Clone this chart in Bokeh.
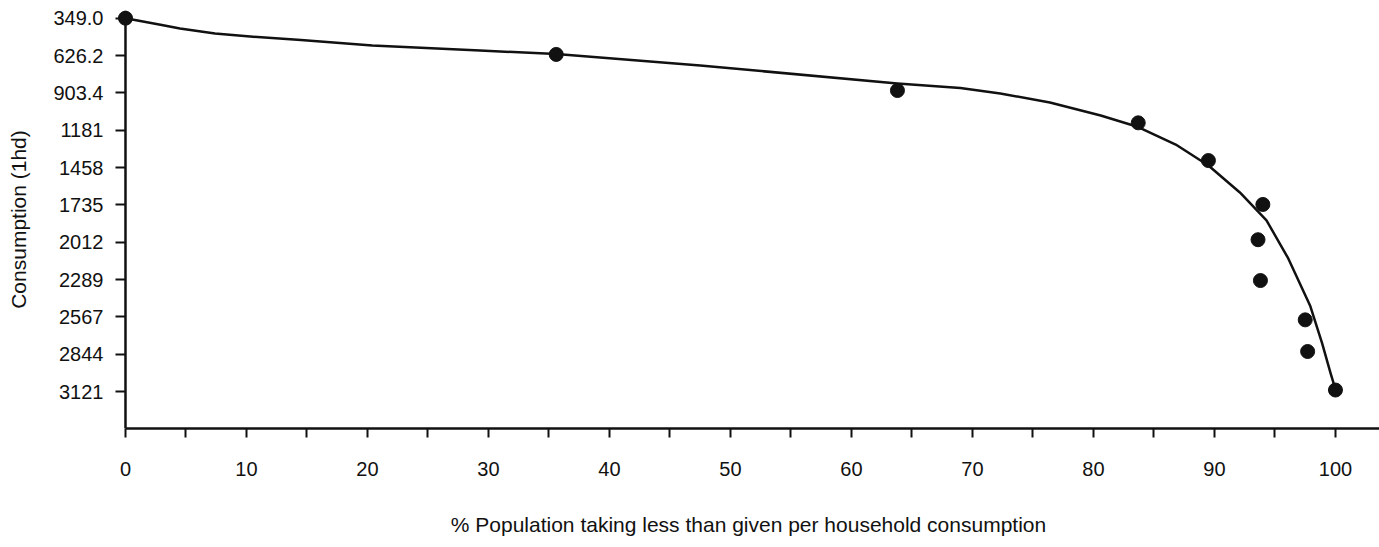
import json
from bokeh.plotting import figure
from bokeh.models import Range1d, FixedTicker, CustomJSTickFormatter, Span
from bokeh.embed import file_html
from bokeh.resources import INLINE

# Observed data points (% population, consumption)
pct_points = [0.0, 35.6, 63.8, 83.7, 89.5, 94.0, 93.6, 93.8, 97.5, 97.7, 100.0]
cons_points = [349, 618, 886, 1126, 1406, 1732, 1994, 2297, 2589, 2824, 3110]

# Fitted curve
curve_pct = [0.0, 3.0, 4.5, 7.4, 10.3, 14.5, 20.4, 29.3, 35.6, 47.5, 63.8, 69.0, 72.3,
             76.4, 80.6, 83.7, 86.8, 89.5, 92.1, 94.3, 96.1, 97.9, 98.9, 99.6, 100.0]
curve_cons = [349, 399, 425, 463, 485, 511, 552, 589, 615, 700, 834, 868, 908,
              975, 1072, 1157, 1287, 1443, 1643, 1851, 2133, 2482, 2764, 2987, 3106]

# Axis ticks and labels
x_ticks = [0, 10, 20, 30, 40, 50, 60, 70, 80, 90, 100]
x_minor_ticks = [5, 15, 25, 35, 45, 55, 65, 75, 85, 95]
y_ticks = [349.0, 626.2, 903.4, 1180.6, 1457.8, 1735.0, 2012.2, 2289.4, 2566.6, 2843.8, 3121.0]
y_labels = ["349.0", "626.2", "903.4", "1181", "1458", "1735", "2012", "2289", "2567", "2844", "3121"]

x_title = "% Population taking less than given per household consumption"
y_title = "Consumption (1hd)"

INK = "#111111"
FONT = "Liberation Sans"

X_START, X_END = -0.66, 103.64
Y_BOTTOM, Y_TOP = 3395.7, 291.8

p = figure(width=1379, height=547, output_backend="svg", toolbar_location=None,
           x_range=Range1d(X_START, X_END), y_range=Range1d(Y_BOTTOM, Y_TOP),
           min_border_left=117, min_border_right=0, min_border_top=10, min_border_bottom=119,
           x_axis_label=x_title, y_axis_label=y_title)
p.grid.visible = False
p.outline_line_color = None
p.background_fill_color = "white"
p.border_fill_color = "white"

xa = p.xaxis[0]
xa.ticker = FixedTicker(ticks=x_ticks, minor_ticks=x_minor_ticks)
xa.bounds = (0, X_END)
xa.axis_line_width = 2.5
xa.axis_line_color = INK
xa.major_tick_in = 0
xa.major_tick_out = 9
xa.minor_tick_in = 0
xa.minor_tick_out = 9
xa.major_tick_line_width = 2
xa.minor_tick_line_width = 2
xa.major_tick_line_color = INK
xa.minor_tick_line_color = INK
xa.major_label_text_font = FONT
xa.major_label_text_font_size = "20px"
xa.major_label_text_color = INK
xa.major_label_standoff = 24
xa.axis_label_text_font = FONT
xa.axis_label_text_font_size = "21px"
xa.axis_label_text_font_style = "normal"
xa.axis_label_text_color = INK
xa.axis_label_standoff = 34

ya = p.yaxis[0]
ya.ticker = FixedTicker(ticks=y_ticks, minor_ticks=[])
ya.formatter = CustomJSTickFormatter(code=(
    "const t = " + json.dumps(y_ticks) + ";\n"
    "const l = " + json.dumps(y_labels) + ";\n"
    "for (let i = 0; i < t.length; i++) { if (Math.abs(t[i] - tick) < 1e-6) return l[i]; }\n"
    "return String(tick);"
))
ya.axis_line_color = None
ya.major_tick_in = 8
ya.major_tick_out = 2
ya.minor_tick_in = 0
ya.minor_tick_out = 0
ya.major_tick_line_width = 2
ya.major_tick_line_color = INK
ya.major_label_text_font = FONT
ya.major_label_text_font_size = "20px"
ya.major_label_text_color = INK
ya.major_label_standoff = 12
ya.axis_label_text_font = FONT
ya.axis_label_text_font_size = "21px"
ya.axis_label_text_font_style = "normal"
ya.axis_label_text_color = INK
ya.axis_label_standoff = 20

# vertical axis line drawn at x = 0
p.add_layout(Span(location=0, dimension="height", line_color=INK, line_width=2.5))

p.line(curve_pct, curve_cons, line_width=2.5, line_color=INK, line_join="round")
p.scatter(pct_points, cons_points, size=14, fill_color=INK, line_color=INK)

open("out.html", "w").write(file_html(p, INLINE))
